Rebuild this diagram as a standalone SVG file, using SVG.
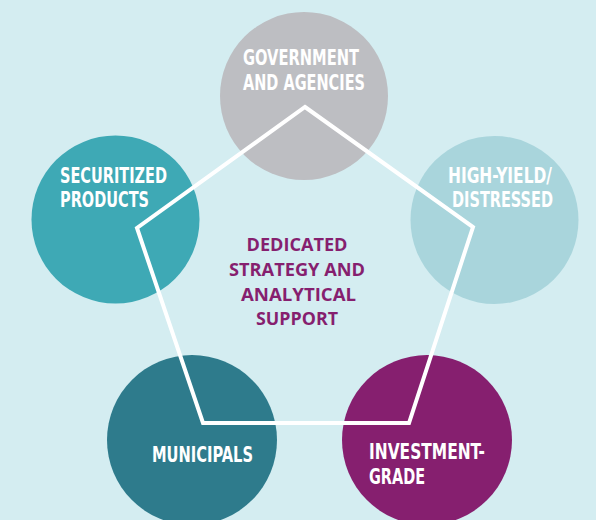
<svg xmlns="http://www.w3.org/2000/svg" width="596" height="520" viewBox="0 0 596 520">
<style>
.lbl{font-family:"Liberation Sans Narrow","DejaVu Sans Condensed","Liberation Sans",sans-serif;font-weight:bold;font-size:21px;fill:#ffffff}
.ctr{font-family:"Open Sans","Liberation Sans",sans-serif;font-weight:bold;font-size:17px;fill:#861f6f}
</style>
<rect x="0" y="0" width="596" height="520" fill="#d4edf1"/>
<g id="node-government">
<circle cx="304" cy="96" r="84" fill="#bdbec2"/>
<text class="lbl" x="243" y="65" textLength="116" lengthAdjust="spacingAndGlyphs">GOVERNMENT</text>
<text class="lbl" x="243" y="90" textLength="122" lengthAdjust="spacingAndGlyphs">AND AGENCIES</text>
</g>
<g id="node-highyield">
<circle cx="494.5" cy="220" r="84" fill="#a9d5dc"/>
<text class="lbl" x="448" y="183" textLength="104" lengthAdjust="spacingAndGlyphs">HIGH-YIELD/</text>
<text class="lbl" x="452" y="207" textLength="101" lengthAdjust="spacingAndGlyphs">DISTRESSED</text>
</g>
<g id="node-securitized">
<circle cx="115.5" cy="219.5" r="84" fill="#3ea9b5"/>
<text class="lbl" x="60" y="183" textLength="107" lengthAdjust="spacingAndGlyphs">SECURITIZED</text>
<text class="lbl" x="60" y="207" textLength="89" lengthAdjust="spacingAndGlyphs">PRODUCTS</text>
</g>
<g id="node-municipals">
<circle cx="192" cy="440" r="85" fill="#2e7b8c"/>
<text class="lbl" x="152" y="462" textLength="101" lengthAdjust="spacingAndGlyphs">MUNICIPALS</text>
</g>
<g id="node-investment">
<circle cx="427" cy="440" r="85" fill="#861f6f"/>
<text class="lbl" x="369" y="459" textLength="116" lengthAdjust="spacingAndGlyphs">INVESTMENT-</text>
<text class="lbl" x="369" y="484" textLength="56" lengthAdjust="spacingAndGlyphs">GRADE</text>
</g>
<g id="connectors">
<polygon points="305,107 473,227 409,423 203,423 137,228" fill="none" stroke="#ffffff" stroke-width="4" stroke-linejoin="miter"/>
</g>
<g id="node-center">
<text class="ctr" x="297" y="251" text-anchor="middle" textLength="101" lengthAdjust="spacingAndGlyphs">DEDICATED</text>
<text class="ctr" x="297" y="276" text-anchor="middle" textLength="136" lengthAdjust="spacingAndGlyphs">STRATEGY AND</text>
<text class="ctr" x="298.5" y="301" text-anchor="middle" textLength="115" lengthAdjust="spacingAndGlyphs">ANALYTICAL</text>
<text class="ctr" x="297" y="325" text-anchor="middle" textLength="82" lengthAdjust="spacingAndGlyphs">SUPPORT</text>
</g>
</svg>
